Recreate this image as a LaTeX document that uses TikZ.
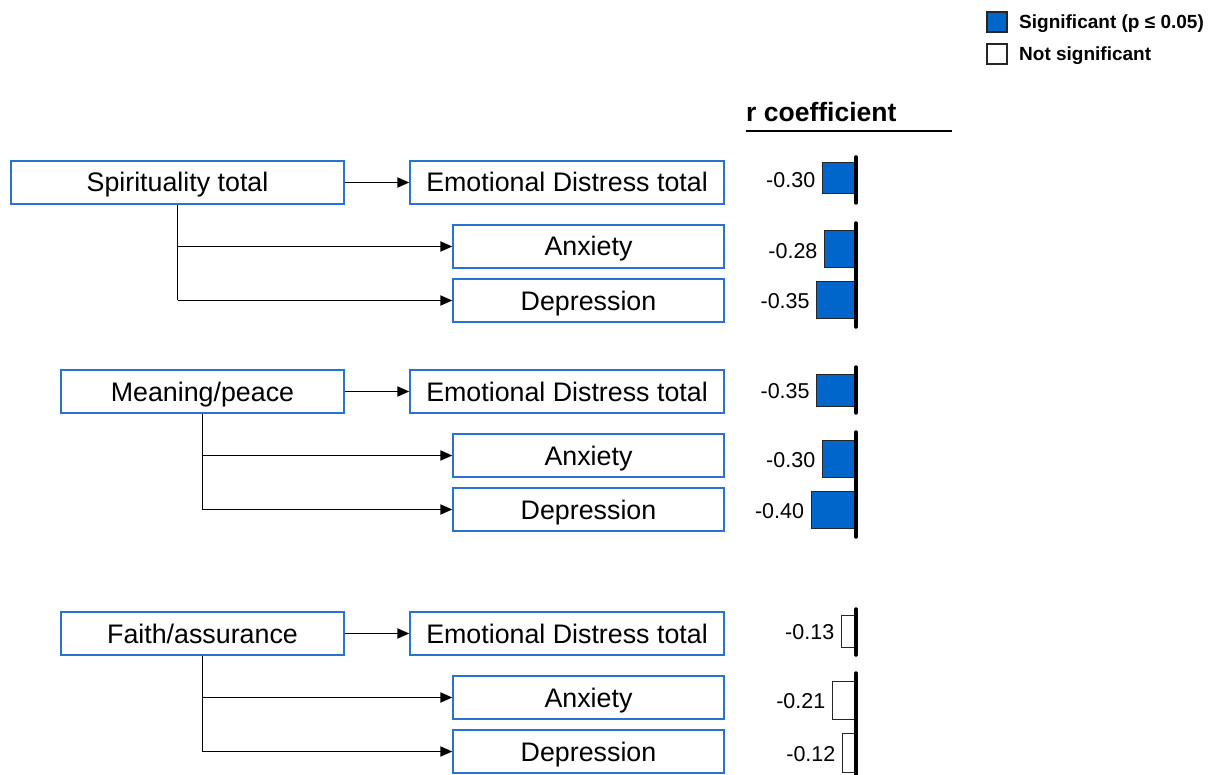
\documentclass[tikz,border=0pt]{standalone}
\usepackage{fontspec}
\setmainfont{Liberation Sans}
\usetikzlibrary{arrows.meta}
\definecolor{sigblue}{RGB}{0,102,204}
\definecolor{boxblue}{RGB}{40,115,210}
\tikzset{
  varbox/.style={draw=boxblue, line width=1.3pt, fill=white, inner sep=0pt, minimum height=43pt, text height=19pt, text depth=0pt, font=\fontsize{26.8}{30}\selectfont},
  conn/.style={line width=1.8pt, -{Triangle[length=12pt,width=10pt]}},
  branch/.style={line width=1.8pt},
  rlabel/.style={anchor=east, inner sep=0pt, text height=15.5pt, text depth=0pt, font=\fontsize{21.5}{24}\selectfont},
  sigbar/.style={fill=sigblue, draw=black!85, line width=1pt},
  nsbar/.style={fill=white, draw=black!85, line width=1pt},
  axisline/.style={line width=3.5pt, line cap=round},
  legtext/.style={anchor=base west, inner sep=0pt, font=\fontsize{19}{22}\selectfont\bfseries},
}
\begin{document}
\begin{tikzpicture}[x=1pt, y=-1pt]
\useasboundingbox (0,0) rectangle (1214,775);

% legend
\draw[sigbar, line width=1.2pt] (987,12) rectangle (1007,32);
\node[legtext] (legsig) at (1019,29) {Significant (p ≤ 0.05)};
\draw[nsbar, line width=1.2pt] (987,44) rectangle (1007,64);
\node[legtext] (legns) at (1019,61) {Not significant};

% r coefficient header
\node[anchor=base west, inner sep=0pt, font=\fontsize{26.5}{30}\selectfont\bfseries] (rhead) at (746,122) {r coefficient};
\draw[line width=1.2pt] (746,131) -- (952,131);

% ---- group 1
\node[varbox, minimum width=333pt] (sp) at (177.5,182.5) {Spirituality total};
\node[varbox, minimum width=314pt] (ed1) at (567,182.5) {Emotional Distress total};
\node[varbox, minimum width=271pt] (an1) at (588.5,246.5) {Anxiety};
\node[varbox, minimum width=271pt] (de1) at (588.5,300.5) {Depression};
\draw[conn] (sp.east) -- (ed1.west);
\draw[branch] (sp.south) -- (sp.south |- de1.west);
\draw[conn] (sp.south |- an1.west) -- (an1.west);
\draw[conn] (sp.south |- de1.west) -- (de1.west);

% ---- group 2
\node[varbox, minimum width=283pt] (mp) at (202.5,391.5) {Meaning/peace};
\node[varbox, minimum width=314pt] (ed2) at (567,391.5) {Emotional Distress total};
\node[varbox, minimum width=271pt] (an2) at (588.5,455.5) {Anxiety};
\node[varbox, minimum width=271pt] (de2) at (588.5,509.5) {Depression};
\draw[conn] (mp.east) -- (ed2.west);
\draw[branch] (mp.south) -- (mp.south |- de2.west);
\draw[conn] (mp.south |- an2.west) -- (an2.west);
\draw[conn] (mp.south |- de2.west) -- (de2.west);

% ---- group 3
\node[varbox, minimum width=283pt] (fa) at (202.5,633.5) {Faith/assurance};
\node[varbox, minimum width=314pt] (ed3) at (567,633.5) {Emotional Distress total};
\node[varbox, minimum width=271pt] (an3) at (588.5,697.5) {Anxiety};
\node[varbox, minimum width=271pt] (de3) at (588.5,751.5) {Depression};
\draw[conn] (fa.east) -- (ed3.west);
\draw[branch] (fa.south) -- (fa.south |- de3.west);
\draw[conn] (fa.south |- an3.west) -- (an3.west);
\draw[conn] (fa.south |- de3.west) -- (de3.west);

% ---- bars (x axis at 856, 112 px per unit)
\foreach \v/\ya/\yb/\sty/\lab in {
  0.30/163/194/sigbar/-0.30,
  0.28/231/268/sigbar/-0.28,
  0.35/282/318/sigbar/-0.35,
  0.35/374/406/sigbar/-0.35,
  0.30/440/477/sigbar/-0.30,
  0.40/491/528/sigbar/-0.40,
  0.13/615/647/nsbar/-0.13,
  0.21/681/719/nsbar/-0.21,
  0.12/733/772/nsbar/-0.12}{
  \draw[\sty] ({856-112*\v},\ya) rectangle (856,\yb);
  \node[rlabel] at ({856-112*\v-7},{(\ya+\yb)/2+1}) {\lab};
}

% axes
\draw[axisline] (856,157) -- (856,203);
\draw[axisline] (856,223) -- (856,327);
\draw[axisline] (856,367) -- (856,413);
\draw[axisline] (856,432) -- (856,537);
\draw[axisline] (856,609) -- (856,655);
\draw[axisline] (856,673) -- (856,778);
\end{tikzpicture}
\end{document}
